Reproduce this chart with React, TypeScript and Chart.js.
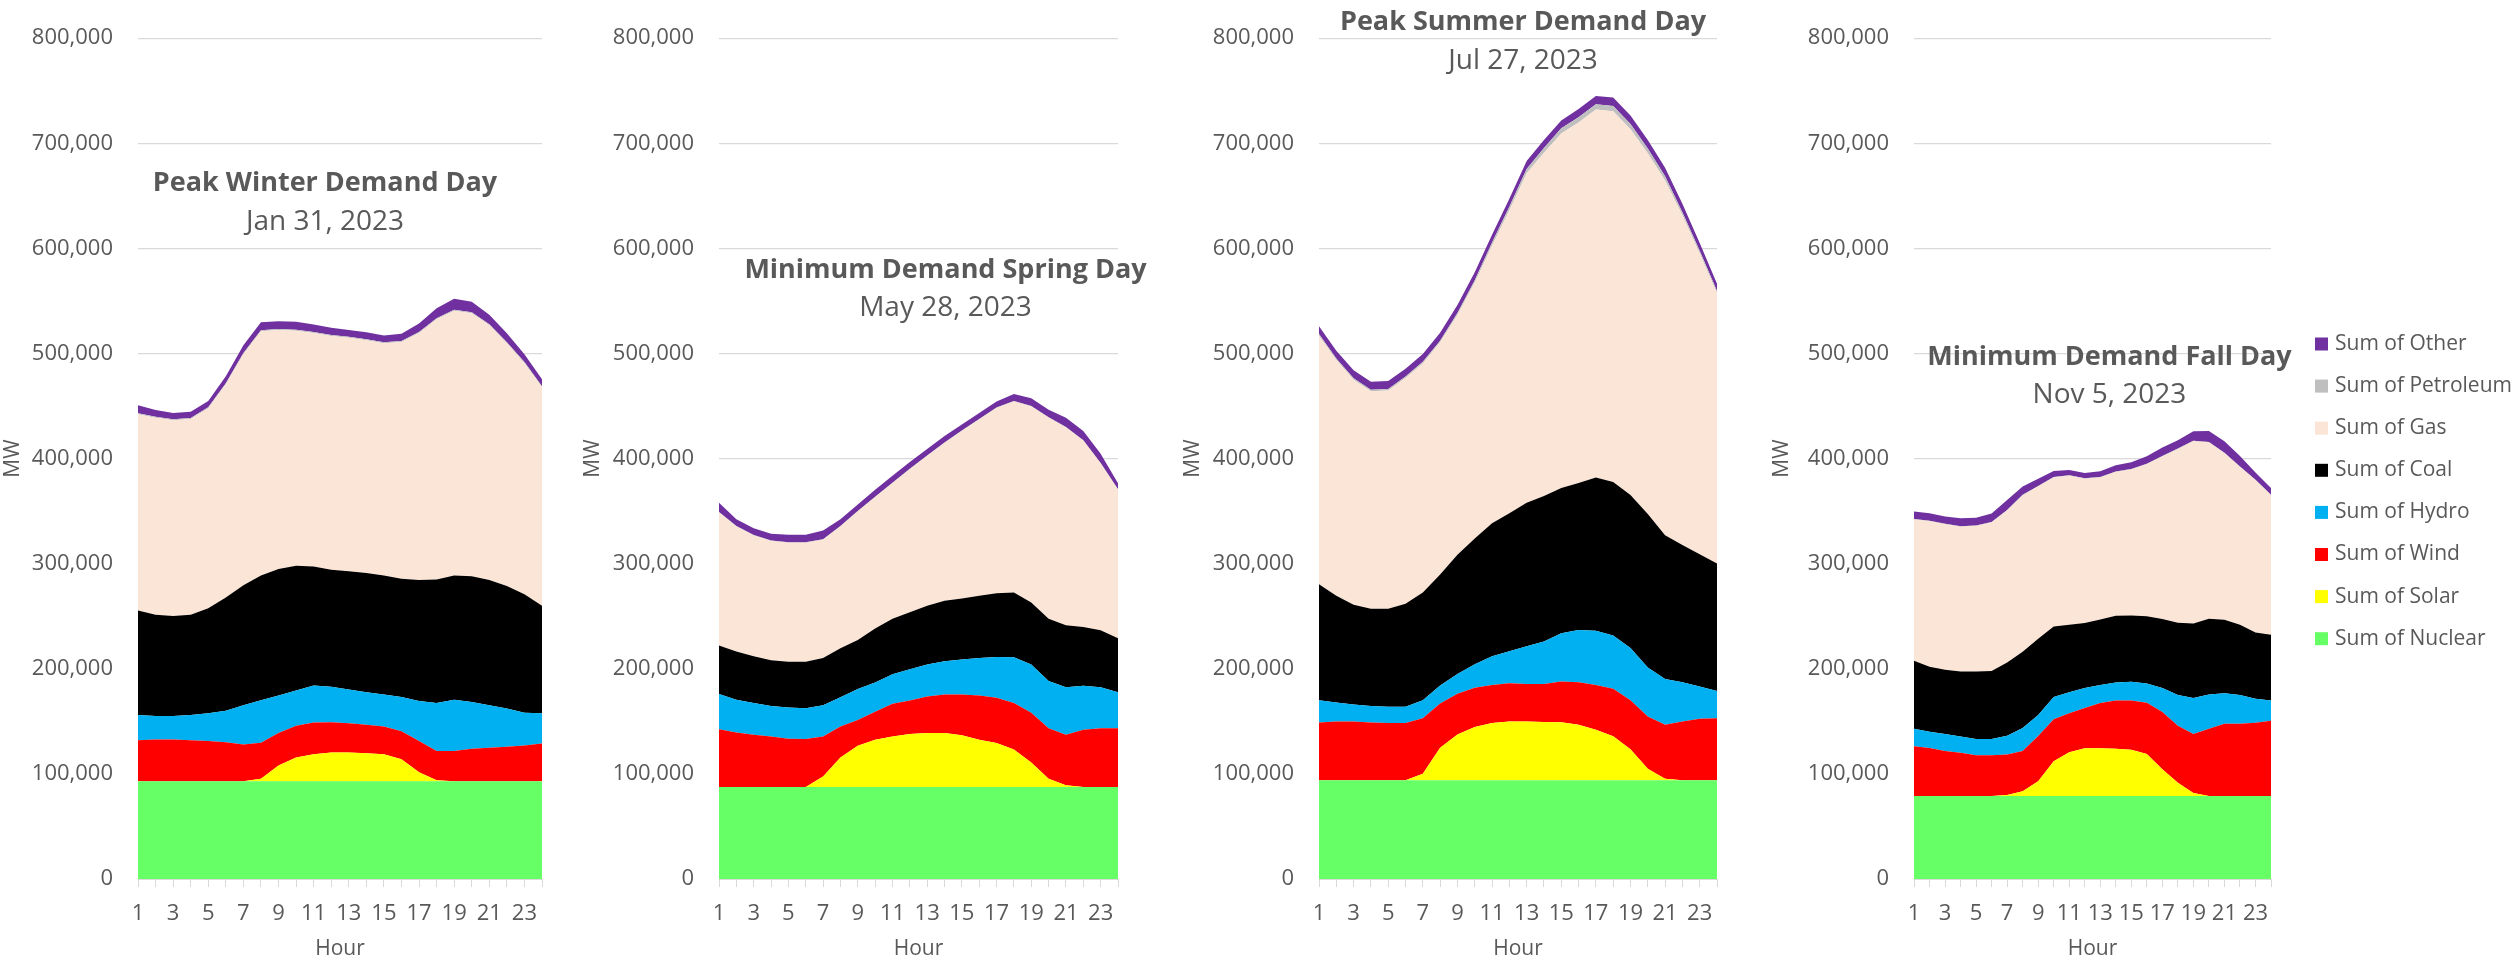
import React, { useEffect, useRef } from "react";
import { Chart, registerables } from "chart.js";

Chart.register(...registerables);

// ---------- categories / labels ----------
const HOURS = ["1","2","3","4","5","6","7","8","9","10","11","12","13","14","15","16","17","18","19","20","21","22","23","24"];
const SERIES_NAMES = ["Sum of Nuclear","Sum of Solar","Sum of Wind","Sum of Hydro","Sum of Coal","Sum of Gas","Sum of Petroleum","Sum of Other"];
const SERIES_COLORS = ["#66FF66","#FFFF00","#FF0000","#00B0F0","#000000","#FBE5D6","#BFBFBF","#7030A0"];
const Y_TICKS = [0,100000,200000,300000,400000,500000,600000,700000,800000];

// ---------- Peak Winter Demand Day (Jan 31, 2023), MW ----------
const WINTER_NUCLEAR = [93000,93000,93000,93000,93000,93000,93000,93000,93000,93000,93000,93000,93000,93000,93000,93000,93000,93000,93000,93000,93000,93000,93000,93000];
const WINTER_SOLAR = [0,0,0,0,0,0,0,2400,14900,22600,25700,27300,27300,26600,25700,21000,8600,900,0,0,0,0,0,0];
const WINTER_WIND = [39100,39700,39700,39100,38200,37200,35000,34200,31000,30100,30200,28900,28000,27100,26500,26500,29600,28000,28900,31000,31900,32900,34100,36000];
const WINTER_HYDRO = [23900,22400,22400,23900,26400,29900,37300,40400,35700,33600,35100,33800,31900,31100,30400,32600,38200,45600,48700,44400,40400,36300,31100,28600];
const WINTER_COAL = [99500,96400,95100,95500,100000,107800,114100,118800,120300,118800,113400,111300,112600,113400,113200,112500,115000,117500,118200,119700,119100,116600,112800,102500];
const WINTER_GAS = [186700,187300,186300,186100,190300,202900,220000,232400,227400,223600,222100,222300,222100,221400,220900,225300,235100,247600,251800,250200,242500,230900,219800,207800];
const WINTER_PETROLEUM = [1000,1000,1000,1000,1000,1000,1000,1000,1000,1000,1000,1000,1000,1000,1000,1000,1000,1000,1000,1000,1000,1000,1000,1000];
const WINTER_OTHER = [7500,6500,6000,6000,6000,6500,7500,7500,7500,7500,7000,7000,6500,6500,6500,7000,8000,9500,10500,10000,9000,8500,7500,6500];

// ---------- Minimum Demand Spring Day (May 28, 2023), MW ----------
const SPRING_NUCLEAR = [87500,87500,87500,87500,87500,87500,87500,87500,87500,87500,87500,87500,87500,87500,87500,87500,87500,87500,87500,87500,87500,87500,87500,87500];
const SPRING_SOLAR = [0,0,0,0,0,0,10000,28000,39400,45100,48200,50400,51300,51300,49200,45100,42000,35800,23400,7800,1600,0,0,0];
const SPRING_WIND = [55100,52000,49800,48200,46000,45700,38200,29600,24400,26500,31100,32000,34900,36700,38800,42000,42900,44100,47200,48200,48200,54400,56000,56000];
const SPRING_HYDRO = [33500,31000,30100,28900,29600,29200,29500,27900,29500,27900,28000,29600,30400,31700,33300,35700,38800,43500,46000,45000,45100,42000,38900,34200];
const SPRING_COAL = [46000,46000,44500,43500,43500,44200,45100,46600,46600,51300,52800,54300,55900,57500,58100,59100,60700,61600,59000,59100,59000,55900,54300,51300];
const SPRING_GAS = [126500,118800,115000,113500,113400,113300,112500,115700,122200,124900,129000,136100,142400,150100,159400,167800,176200,181800,186500,191200,188100,177200,158500,141400];
const SPRING_PETROLEUM = [500,500,500,500,500,500,500,500,500,500,500,500,500,500,500,500,500,500,500,500,500,500,500,500];
const SPRING_OTHER = [8800,6600,6300,6300,7000,7100,8200,6600,6300,6700,6600,6400,6300,6300,5700,5700,5700,6600,7300,7200,8800,8800,8900,5700];

// ---------- Peak Summer Demand Day (Jul 27, 2023), MW ----------
const SUMMER_NUCLEAR = [94000,94000,94000,94000,94000,94000,94000,94000,94000,94000,94000,94000,94000,94000,94000,94000,94000,94000,94000,94000,94000,94000,94000,94000];
const SUMMER_SOLAR = [0,0,0,0,0,0,6100,31000,43400,50600,54400,55900,55900,55300,55100,52800,48100,41900,29500,10800,1500,0,0,0];
const SUMMER_WIND = [55000,55900,55900,55000,54400,54400,52900,42000,38900,37300,36300,36400,35700,36300,38700,40400,42600,45100,46600,49800,51300,55900,58400,59000];
const SUMMER_HYDRO = [21100,18000,16200,15500,15500,15500,17100,17100,18700,22400,27300,30400,35800,40400,46000,49700,51600,50600,49800,46600,43500,37300,30700,25800];
const SUMMER_COAL = [110400,101700,94800,92700,93300,97900,102600,105700,113500,119600,126600,131200,136700,138300,138300,139900,145800,146100,145400,146000,136800,130600,125900,121300];
const SUMMER_GAS = [236500,224100,214100,206900,207600,214800,217900,220900,228100,243400,263900,288300,313500,326800,337200,342900,350000,352800,348100,343400,337600,313700,286200,257300];
const SUMMER_PETROLEUM = [1500,1500,1500,1500,1500,1500,1500,1500,2000,2500,3000,3500,4000,4500,5000,5000,5000,5000,5000,4500,4000,3000,2500,2000];
const SUMMER_OTHER = [7500,7500,7500,7500,7500,7500,7500,7500,7500,7500,7500,7500,7500,7500,7500,8000,8000,8000,8000,8000,8000,8000,7500,7000];

// ---------- Minimum Demand Fall Day (Nov 5, 2023), MW ----------
const FALL_NUCLEAR = [79000,79000,79000,79000,79000,79000,79000,79000,79000,79000,79000,79000,79000,79000,79000,79000,79000,79000,79000,79000,79000,79000,79000,79000];
const FALL_SOLAR = [0,0,0,0,0,0,1000,4500,14000,33000,41500,45500,45500,45000,44000,40000,25500,12500,2800,0,0,0,0,0];
const FALL_WIND = [47400,45700,42900,41100,38800,38800,38400,38400,43000,40100,37200,38300,42900,45800,46900,48600,54300,54400,56100,64000,68600,68600,69700,71500];
const FALL_HYDRO = [16600,15500,16000,15500,15500,15500,17800,21700,20000,21100,20000,18900,17200,17100,17700,18300,22900,29100,34300,32600,29200,27400,22900,19400];
const FALL_COAL = [64700,61700,61200,61800,64100,64600,69800,72600,72600,67000,64100,61800,62300,63600,63000,64100,65800,68700,70900,72100,69800,67000,63000,62400];
const FALL_GAS = [134400,138500,138400,137800,138400,141300,144700,148800,144800,141900,141900,137300,135100,136700,139000,144700,154500,165300,173400,167600,158400,149900,144700,132700];
const FALL_PETROLEUM = [500,500,500,500,500,500,500,500,500,500,500,500,500,500,500,500,500,500,500,500,500,500,500,500];
const FALL_OTHER = [7000,7000,7000,7500,7500,8000,9500,8000,7000,5500,5000,5000,5500,6000,6500,7000,8000,8000,9000,10500,11000,10000,7000,6500];

const FONT = "'Open Sans', sans-serif";
const TEXT = "#595959";
const GRID = "#d9d9d9";

type Panel = {
  title: string;
  date: string;
  series: number[][];
  canvasLeft: number;
  canvasWidth: number;
  plotLeft: number;
  plotRight: number;
  titleDx: number;
  titleY: number;
  dateY: number;
  legend: boolean;
};

const PANELS: Panel[] = [
  { title: "Peak Winter Demand Day", date: "Jan 31, 2023",
    series: [WINTER_NUCLEAR, WINTER_SOLAR, WINTER_WIND, WINTER_HYDRO, WINTER_COAL, WINTER_GAS, WINTER_PETROLEUM, WINTER_OTHER],
    canvasLeft: 0, canvasWidth: 570, plotLeft: 138, plotRight: 542, titleDx: -15, titleY: 183, dateY: 222, legend: false },
  { title: "Minimum Demand Spring Day", date: "May 28, 2023",
    series: [SPRING_NUCLEAR, SPRING_SOLAR, SPRING_WIND, SPRING_HYDRO, SPRING_COAL, SPRING_GAS, SPRING_PETROLEUM, SPRING_OTHER],
    canvasLeft: 580, canvasWidth: 590, plotLeft: 719, plotRight: 1118, titleDx: 27, titleY: 270, dateY: 308, legend: false },
  { title: "Peak Summer Demand Day", date: "Jul 27, 2023",
    series: [SUMMER_NUCLEAR, SUMMER_SOLAR, SUMMER_WIND, SUMMER_HYDRO, SUMMER_COAL, SUMMER_GAS, SUMMER_PETROLEUM, SUMMER_OTHER],
    canvasLeft: 1180, canvasWidth: 580, plotLeft: 1319, plotRight: 1717, titleDx: 5, titleY: 22, dateY: 61, legend: false },
  { title: "Minimum Demand Fall Day", date: "Nov 5, 2023",
    series: [FALL_NUCLEAR, FALL_SOLAR, FALL_WIND, FALL_HYDRO, FALL_COAL, FALL_GAS, FALL_PETROLEUM, FALL_OTHER],
    canvasLeft: 1769, canvasWidth: 750, plotLeft: 1914, plotRight: 2271, titleDx: 17, titleY: 357, dateY: 395, legend: true },
];

const titlePlugin = {
  id: "panelTitle",
  afterDraw(chart: any, _args: any, opts: any) {
    if (!opts || !opts.text) return;
    const { ctx, chartArea } = chart;
    const cx = (chartArea.left + chartArea.right) / 2 + opts.dx;
    ctx.save();
    ctx.textAlign = "center";
    ctx.textBaseline = "middle";
    ctx.fillStyle = TEXT;
    ctx.font = `bold 27px ${FONT}`;
    ctx.fillText(opts.text, cx, opts.y);
    ctx.font = `28px ${FONT}`;
    ctx.fillText(opts.date, cx, opts.dateY);
    ctx.restore();
  },
};

const sideLegendPlugin = {
  id: "sideLegend",
  afterDraw(chart: any, _args: any, opts: any) {
    if (!opts || !opts.display) return;
    const { ctx, chartArea } = chart;
    const items = chart.data.datasets.map((d: any) => ({ label: d.label, color: d.backgroundColor })).reverse();
    const x = chartArea.right + opts.gap;
    ctx.save();
    ctx.font = `21px ${FONT}`;
    ctx.textAlign = "left";
    ctx.textBaseline = "middle";
    items.forEach((it: any, i: number) => {
      const cy = opts.firstY + i * opts.spacing;
      ctx.fillStyle = it.color;
      ctx.fillRect(x, cy - 6.5, 13, 13);
      ctx.fillStyle = TEXT;
      ctx.fillText(it.label, x + 20, cy);
    });
    ctx.restore();
  },
};

function PanelChart({ p }: { p: Panel }) {
  const ref = useRef<HTMLCanvasElement | null>(null);
  useEffect(() => {
    if (!ref.current) return;
    const tickFont = { family: FONT, size: 22 };
    const titleFont = { family: FONT, size: 21 };
    const chart = new Chart(ref.current, {
      type: "line",
      data: {
        labels: HOURS,
        datasets: SERIES_NAMES.map((name, i) => ({
          label: name,
          data: p.series[i],
          backgroundColor: SERIES_COLORS[i],
          borderColor: "rgba(0,0,0,0)",
          borderWidth: 0,
          pointRadius: 0,
          pointHoverRadius: 0,
          tension: 0,
          fill: i === 0 ? "origin" : "-1",
        })),
      },
      options: {
        animation: false,
        responsive: false,
        maintainAspectRatio: false,
        events: [],
        layout: { padding: { left: 0, top: 21, bottom: 0, right: p.canvasLeft + p.canvasWidth - p.plotRight } },
        plugins: {
          legend: { display: false },
          tooltip: { enabled: false },
          title: { display: false },
          panelTitle: { text: p.title, date: p.date, dx: p.titleDx, y: p.titleY, dateY: p.dateY },
          sideLegend: { display: p.legend, gap: 44, firstY: 344, spacing: 42.1 },
        } as any,
        scales: {
          x: {
            type: "category",
            offset: false,
            grid: { display: true, drawOnChartArea: false, drawTicks: true, tickLength: 8, color: GRID },
            border: { display: true, color: GRID },
            ticks: {
              autoSkip: false, maxRotation: 0, minRotation: 0, padding: 14,
              font: tickFont, color: TEXT,
              callback: (_v: any, i: number) => (i % 2 === 0 ? HOURS[i] : ""),
            },
            title: { display: true, text: "Hour", font: titleFont, color: TEXT, padding: 0 },
            afterFit: (s: any) => { s.height = 83; },
          },
          y: {
            stacked: true,
            min: Y_TICKS[0],
            max: Y_TICKS[Y_TICKS.length - 1],
            afterBuildTicks: (s: any) => { s.ticks = Y_TICKS.map((v) => ({ value: v })); },
            ticks: {
              padding: 25, font: tickFont, color: TEXT,
              callback: (v: any) => Number(v).toLocaleString("en-US"),
            },
            grid: { color: GRID, drawTicks: false, lineWidth: 1.3 },
            border: { display: false },
            title: { display: true, text: "MW", font: titleFont, color: TEXT, padding: 0 },
            afterFit: (s: any) => { s.width = p.plotLeft - p.canvasLeft; },
          },
        },
      } as any,
      plugins: [titlePlugin, sideLegendPlugin],
    });
    return () => chart.destroy();
  }, [p]);
  return (
    <canvas
      ref={ref}
      width={p.canvasWidth}
      height={962}
      style={{ position: "absolute", left: p.canvasLeft, top: 0, width: p.canvasWidth, height: 962 }}
    />
  );
}

export default function App() {
  return (
    <div style={{ position: "absolute", left: 0, top: 0, width: 2519, height: 962, overflow: "hidden", background: "#ffffff" }}>
      {PANELS.map((p, i) => (
        <PanelChart key={i} p={p} />
      ))}
    </div>
  );
}
